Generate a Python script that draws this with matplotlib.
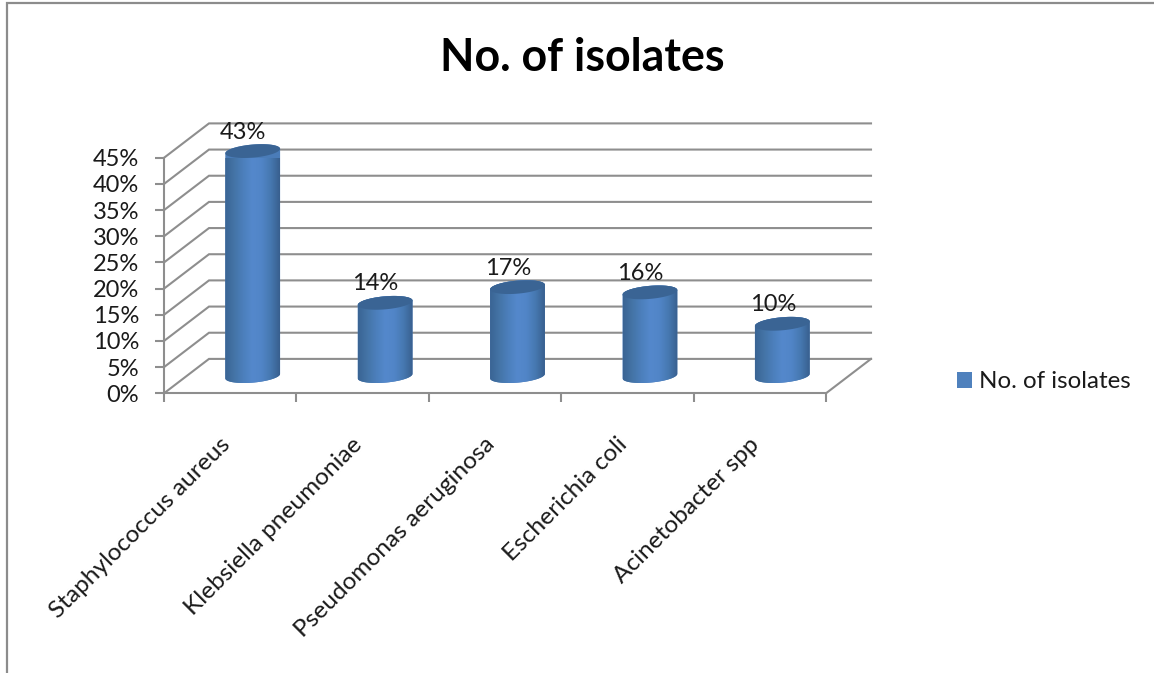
import numpy as np
import matplotlib
matplotlib.use("Agg")
import matplotlib.pyplot as plt
from matplotlib.lines import Line2D
from matplotlib.patches import Patch
from matplotlib.path import Path
from matplotlib.colors import LinearSegmentedColormap
from matplotlib.transforms import ScaledTranslation

categories = ["Staphylococcus aureus", "Klebsiella pneumoniae", "Pseudomonas aeruginosa",
              "Escherichia coli", "Acinetobacter spp"]
values = [43, 14, 17, 16, 10]
y_ticks = [0, 5, 10, 15, 20, 25, 30, 35, 40, 45]
series_name = "No. of isolates"
title = "No. of isolates"

W, H = 1154, 673
plt.rcParams["font.family"] = ["Lato", "DejaVu Sans"]
fig = plt.figure(figsize=(W / 100, H / 100), dpi=100)
L, R, B, T = 164, 826, 393.3, 157.8
ax = fig.add_axes([L / W, 1 - B / H, (R - L) / W, (B - T) / H])
ax.set_xlim(0, len(categories))
ax.set_ylim(0, 45)
px = len(categories) / (R - L)
py = 45 / (B - T)
DX, DY = 45 * px, 34.4 * py

GRID = "#8e8e8e"
TXT = "#1a1a1a"
FS = 17
FS_CAT = 17.6

# walls and floor
for t in y_ticks:
    ax.plot([0, DX, len(categories) + DX], [t, t + DY, t + DY], color=GRID, lw=1.5, clip_on=False, zorder=1,
            solid_joinstyle="miter")
ax.plot([len(categories), len(categories) + DX], [0, DY], color=GRID, lw=1.5, clip_on=False, zorder=1)

for s in ("top", "right"):
    ax.spines[s].set_visible(False)
for s in ("left", "bottom"):
    ax.spines[s].set_color(GRID)
    ax.spines[s].set_linewidth(1.5)
ax.patch.set_visible(False)

ax.set_yticks(y_ticks, [f"{t}%" for t in y_ticks], fontsize=FS, color=TXT)
ax.set_xticks(range(len(categories) + 1), [""] * (len(categories) + 1))
ax.tick_params(axis="both", which="major", color=GRID, width=1.5, length=6.5)
ax.tick_params(axis="y", pad=11.5)
ax.set_xticks(np.arange(len(categories)) + 0.5, categories, minor=True, rotation=45, ha="right",
              rotation_mode="anchor", fontsize=FS_CAT, color=TXT)
ax.tick_params(axis="x", which="minor", length=0, pad=29)
shift = ScaledTranslation(-11 / 100, 0, fig.dpi_scale_trans)
for lab in ax.get_xticklabels(minor=True):
    lab.set_transform(lab.get_transform() + shift)

# cylinders
cmap = LinearSegmentedColormap.from_list("cyl", ["#3a6494", "#4474a6", "#4c7fbc", "#5488cc", "#5185c7", "#4678b0", "#385f8e"])
grad = np.linspace(0, 1, 256).reshape(1, -1)
RX, RY, TILT = 27.5, 6.5, np.deg2rad(5)


def ellipse(cx, cy, u):
    return (cx + (RX * np.cos(u) * np.cos(TILT) - RY * np.sin(u) * np.sin(TILT)) * px,
            cy + (RX * np.cos(u) * np.sin(TILT) + RY * np.sin(u) * np.cos(TILT)) * py)


for i, v in enumerate(values):
    cx = i + 0.5 + DX / 2
    y0 = DY / 2
    y1 = y0 + v
    ub = np.linspace(np.pi, 2 * np.pi, 40)
    ut = np.linspace(0, np.pi, 40)
    xb, yb = ellipse(cx, y0, ub)
    xt, yt = ellipse(cx, y1, ut)
    xs = np.r_[xb, xt, xb[0]]
    ys = np.r_[yb, yt, yb[0]]
    ax.fill(xs, ys, color="#4a7cb8", lw=0, zorder=2.9, clip_on=False)
    im = ax.imshow(grad, cmap=cmap, aspect="auto", interpolation="bilinear", zorder=3,
                   extent=[xs.min(), xs.max(), ys.min(), ys.max()])
    im.set_clip_path(Path(np.c_[xs, ys]), ax.transData)
    u = np.linspace(0, 2 * np.pi, 80)
    ex, ey = ellipse(cx, y1, u)
    ax.fill(ex, ey, color="#3a6494", lw=0, zorder=4, clip_on=False)
    ax.text(cx - 9.5 * px, y1 + 19 * py, f"{v}%", ha="center", va="center", fontsize=FS, color=TXT,
            zorder=5, clip_on=False)

ax.set_xlim(0, len(categories))
ax.set_ylim(0, 45)

fig.suptitle(title, x=582 / W, y=1 - 58 / H, ha="center", va="center", fontsize=32.2, fontweight="bold", color="black")

fig.legend(handles=[Patch(color="#4f81bd", lw=0, label=series_name)], loc="center left",
           bbox_to_anchor=(957 / W, 1 - 382 / H), frameon=False, fontsize=17.4, borderpad=0, borderaxespad=0,
           handlelength=0.62, handleheight=0.62, handletextpad=0.28, labelcolor=TXT)

BORDER = "#8c8c8c"
fig.add_artist(Line2D([6.5 / W, 6.5 / W, 1], [0, 1 - 3 / H, 1 - 3 / H], transform=fig.transFigure,
                      color=BORDER, lw=1.6, solid_joinstyle="miter"))

fig.savefig("out.png", dpi=100)
